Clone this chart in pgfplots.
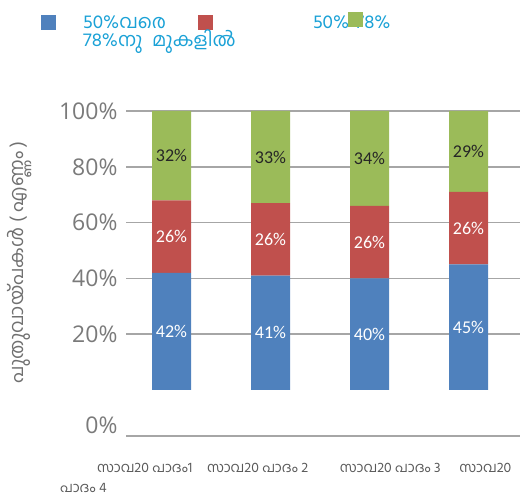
\documentclass[border=0pt]{standalone}
\usepackage{fontspec}
\usepackage{pgfplots}
\pgfplotsset{compat=1.18}
\setmainfont{Open Sans}
\newfontfamily\ml[Script=Malayalam]{Hind Kochi}
\newfontfamily\carl{Carlito}
\definecolor{cblue}{HTML}{4F81BD}
\definecolor{cred}{HTML}{C0504D}
\definecolor{cgreen}{HTML}{9BBB59}
\definecolor{legtext}{HTML}{1AA1D6}
\definecolor{gridc}{HTML}{A6A6A6}
\definecolor{ticktext}{HTML}{7A7A7A}
\definecolor{cattext}{HTML}{595959}
\definecolor{ylab}{HTML}{707070}
\begin{document}
\begin{tikzpicture}
\useasboundingbox (0,0) rectangle (521pt,500pt);
\begin{axis}[
 at={(126pt,64pt)}, anchor=south west,
 scale only axis, width=394pt, height=325pt,
 ybar stacked, bar width=39pt,
 xmin=-0.46, xmax=3.52, ymin=-16.5, ymax=100,
 axis x line*=bottom, axis y line*=left,
 x axis line style={draw=gridc, line width=1.5pt, -},
 y axis line style={draw=none},
 major tick length=0pt,
 ytick={20,40,60,80,100},
 yticklabel={\pgfmathprintnumber{\tick}\%},
 extra y ticks={-12.5}, extra y tick labels={0\%}, extra y tick style={grid=none},
 ymajorgrids, grid style={draw=gridc, line width=1.5pt},
 /pgf/number format/assume math mode=true,
 yticklabel style={font=\fontsize{23}{25}\selectfont, text=ticktext, xshift=-5pt},
 xtick={-0.27,0.87,2.21,3.17},
 xticklabels={{സാവ20 പാദം1},{സാവ20 പാദം 2},{സാവ20 പാദം 3},{സാവ20}},
 xticklabel style={font=\ml\fontsize{14}{16}\selectfont, text=cattext, yshift=-24pt},
 ylabel={പുതുവായ്പകൾ ( എണ്ണം )},
 ylabel style={at={(axis description cs:-0.269,0.535)}, anchor=center, font=\ml\fontsize{19}{21}\selectfont, text=ylab},
 visualization depends on={rawy \as \rawy},
 nodes near coords={\pgfmathprintnumber{\rawy}\%},
 every node near coord/.append style={anchor=center, font=\carl\fontsize{18}{20}\selectfont},
 clip=false,
 legend columns=2,
 legend cell align=left,
 legend style={at={(axis description cs:-0.2157,1.30)}, anchor=north west, draw=none, fill=none, inner sep=0pt,
   font=\ml\fontsize{19}{20}\selectfont, text=legtext, row sep=-4pt,
   /tikz/every odd column/.append style={column sep=25pt},
   /tikz/every even column/.append style={column sep=30pt}},
]
\addplot[fill=cblue, draw=none, every node near coord/.append style={text=white},
  legend image code/.code={\fill[cblue] (0pt,-7.5pt) rectangle (15pt,7.5pt);}]
  coordinates {(0,42) (1,41) (2,40) (3,45)};
\addlegendentry{50\%വരെ}
\addplot[fill=cred, draw=none, every node near coord/.append style={text=white},
  legend image code/.code={\fill[cred] (0pt,-7.5pt) rectangle (15pt,7.5pt);}]
  coordinates {(0,26) (1,26) (2,26) (3,26)};
\addlegendentry{\hspace*{73pt}50\%-78\%}
\addplot[fill=cgreen, draw=none, every node near coord/.append style={text=black!85},
  legend image code/.code={\fill[cgreen,overlay] (307pt,12pt) rectangle (322pt,27pt);}]
  coordinates {(0,32) (1,33) (2,34) (3,29)};
\addlegendentry{\makebox[0pt][l]{78\%നു\enspace മുകളിൽ}}
\end{axis}
\node[anchor=west, inner sep=0pt, font=\ml\fontsize{14}{16}\selectfont, text=cattext] at (60pt,12pt) {പാദം 4};
\end{tikzpicture}
\end{document}
